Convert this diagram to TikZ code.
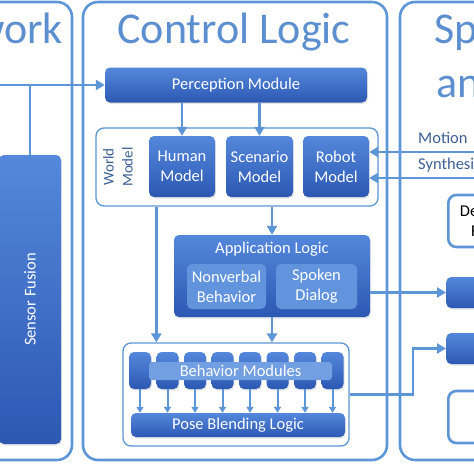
\documentclass[tikz,border=0pt]{standalone}
\usepackage{fontspec}
\setmainfont{Carlito}
\usepackage{xcolor}
\usepackage{tikz}
\usetikzlibrary{shapes.geometric, arrows.meta, positioning, shadows}

\definecolor{lineblue}{RGB}{92,150,215}
\definecolor{titleblue}{RGB}{92,143,208}
\definecolor{boxtop}{RGB}{84,136,220}
\definecolor{boxbot}{RGB}{44,88,178}
\definecolor{boxlight}{RGB}{98,148,222}
\definecolor{labelblue}{RGB}{60,96,150}

\begin{document}
\begin{tikzpicture}[x=1pt, y=-1pt, font=\fontsize{16.5}{20}\selectfont,
  panel/.style={draw=lineblue, line width=2.6pt, rounded corners=15pt, fill=white},
  group/.style={draw=lineblue, line width=1.3pt, rounded corners=8pt, fill=white},
  module/.style={rounded corners=5pt, top color=boxtop, bottom color=boxbot, text=white,
    align=center, inner sep=0pt, drop shadow={opacity=0.2, shadow xshift=1pt, shadow yshift=-1.5pt}},
  sub/.style={rounded corners=5pt, fill=boxlight, text=white, align=center, inner sep=0pt},
  outline/.style={draw=lineblue, line width=2.6pt, rounded corners=8pt, fill=white},
  title/.style={text=titleblue, inner sep=0pt, font=\fontsize{44}{54}\selectfont},
  arr/.style={draw=lineblue, line width=2.6pt, -{Triangle[length=9pt, width=10pt]}},
  conn/.style={draw=lineblue, line width=2.6pt},
  smallarr/.style={draw=lineblue, line width=2pt, -{Triangle[length=6pt, width=7pt]}}]
  \useasboundingbox (0,0) rectangle (474,474);
  \clip (0,0) rectangle (474,474);
  \node[panel, minimum width=172pt, minimum height=458pt] (NP) at (-14,231) {};
  \node[panel, minimum width=304pt, minimum height=458pt] (CP) at (235,231) {};
  \node[panel, minimum width=300pt, minimum height=458pt] (SP) at (550,231) {};
  \node[title, anchor=base east] (NT) at (63,43) {Network};
  \node[title, anchor=base] (CT) at (234,43) {Control Logic};
  \node[title, anchor=base west] (ST1) at (434,43) {Speech};
  \node[title, anchor=base west] (ST2) at (436,97) {and Gesture};

  \node[module, minimum width=262pt, minimum height=35pt] (PM) at (236,85) {Perception Module};
  \node[group, minimum width=282pt, minimum height=78pt] (WM) at (237,167) {};
  \node[rotate=90, align=center, text=labelblue, font=\fontsize{15}{19}\selectfont] (WL) at (118,167) {World\\Model};
  \node[module, minimum width=66pt, minimum height=61pt] (HM) at (182,166.5) {Human\\Model};
  \node[module, minimum width=67pt, minimum height=61pt] (SM) at (259.5,166.5) {Scenario\\Model};
  \node[module, minimum width=66pt, minimum height=61pt] (RM) at (336,166.5) {Robot\\Model};

  \node[module, minimum width=196pt, minimum height=82pt] (AL) at (272,276) {};
  \node[text=white] (ALT) at (272,249) {Application Logic};
  \node[sub, minimum width=79pt, minimum height=45pt] (NB) at (226.5,286.5) {Nonverbal\\Behavior};
  \node[sub, minimum width=81pt, minimum height=45pt] (SD) at (316.5,286.5) {Spoken\\Dialog};

  \node[group, minimum width=226pt, minimum height=103pt] (BG) at (236,394.5) {};
  \foreach \i in {1,...,8}
    \node[module, minimum width=22pt, minimum height=37pt] (B\i) at (112.5+27.5*\i,370.5) {};
  \node[sub, fill=boxlight!90!white, rounded corners=3pt, minimum width=183pt, minimum height=18pt] (BM) at (240.5,371) {Behavior Modules};
  \node[module, minimum width=214pt, minimum height=24pt] (PB) at (238,425) {Pose Blending Logic};

  \node[module, rotate=90, minimum width=289pt, minimum height=62pt] (SF) at (30,299.5) {Sensor Fusion};

  \node[module, anchor=west, minimum width=80pt, minimum height=31pt] (O1) at (446,292.5) {};
  \node[module, anchor=west, minimum width=80pt, minimum height=31pt] (O2) at (446,348.5) {};
  \node[outline, anchor=west, minimum width=90pt, minimum height=52pt] (O3) at (447,417) {};
  \node[outline, anchor=west, minimum width=80pt, minimum height=52pt, align=center] (DF) at (447,221) {Decision\\Filter};
  \node[text=labelblue, anchor=base west, inner sep=0pt] (ML) at (418,143) {Motion};
  \node[text=labelblue, anchor=base west, inner sep=0pt] (SL) at (418,169) {Synthesis};

  \coordinate (NI) at (-5,85);
  \coordinate (M1) at (480,152);
  \coordinate (M2) at (480,178);
  \draw[arr] (NI) -- (PM.west);
  \draw[conn] (SF.east) -- (SF.east |- PM.west);
  \draw[arr] (PM.south -| HM.north) -- (HM.north);
  \draw[arr] (PM.south -| SM.north) -- (SM.north);
  \draw[arr] (M1) -- (M1 -| RM.east);
  \draw[arr] (M2) -- (M2 -| RM.east);
  \draw[arr] (WM.south -| AL.north) -- (AL.north);
  \draw[arr] ([xshift=61pt]WM.south west) -- ([xshift=34pt]BG.north west);
  \draw[arr] (AL.south) -- (AL.south |- BG.north);
  \foreach \i in {1,...,8}
    \draw[smallarr] (B\i.south) -- (B\i.south |- PB.north);
  \draw[arr] (AL.east |- O1.west) -- (O1.west);
  \draw[arr] (BG.east) -| ([xshift=-33pt]O2.west) -- (O2.west);
\end{tikzpicture}
\end{document}
